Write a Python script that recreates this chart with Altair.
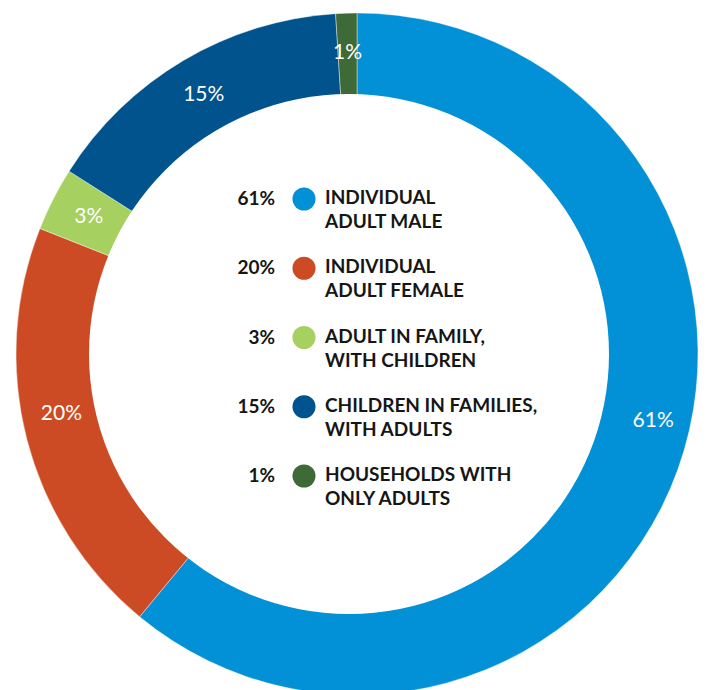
import altair as alt
import pandas as pd

categories = [
    "INDIVIDUAL ADULT MALE",
    "INDIVIDUAL ADULT FEMALE",
    "ADULT IN FAMILY, WITH CHILDREN",
    "CHILDREN IN FAMILIES, WITH ADULTS",
    "HOUSEHOLDS WITH ONLY ADULTS",
]
line1 = ["INDIVIDUAL", "INDIVIDUAL", "ADULT IN FAMILY,", "CHILDREN IN FAMILIES,", "HOUSEHOLDS WITH"]
line2 = ["ADULT MALE", "ADULT FEMALE", "WITH CHILDREN", "WITH ADULTS", "ONLY ADULTS"]
values = [61, 20, 3, 15, 1]
labels = ["61%", "20%", "3%", "15%", "1%"]
colors = ["#0290D6", "#CD4B24", "#A6D05F", "#01538D", "#3E6A37"]

df = pd.DataFrame({
    "cat": categories,
    "line1": line1,
    "line2": line2,
    "value": values,
    "label": labels,
    "order": list(range(len(categories))),
})

FONT = "Lato"
CX, CY = 349, 346

base = alt.Chart(df)
color = alt.Color("cat:N", scale=alt.Scale(domain=categories, range=colors), legend=None)
theta = alt.Theta("value:Q", stack=True)
order = alt.Order("order:Q")

ring = base.mark_arc(outerRadius=341, innerRadius=0, stroke="white", strokeWidth=0.4).encode(
    theta=theta, color=color, order=order, x=alt.value(CX), y=alt.value(CY)
)

# white hole of the donut (slightly off-centre, as in the original)
hole = alt.Chart(pd.DataFrame({"k": [0]})).mark_arc(
    outerRadius=260, innerRadius=0, theta=0, theta2=6.2832, color="white"
).encode(x=alt.value(CX - 8), y=alt.value(CY))

def ring_label(filter_expr, dx=0, dy=0):
    return base.mark_text(radius=301, font=FONT, fontSize=21, color="white", dx=dx, dy=dy).encode(
        theta=theta, order=order, text="label:N", x=alt.value(CX), y=alt.value(CY),
        opacity=alt.condition(filter_expr, alt.value(1), alt.value(0)),
    )

ring_text_main = ring_label("datum.label != '61%' && datum.label != '20%'")
ring_text_61 = ring_label("datum.label == '61%'", dx=13, dy=-35)
ring_text_20 = ring_label("datum.label == '20%'", dx=-4, dy=-15)

row_y = alt.Y("order:Q", scale=alt.Scale(domain=[0, 4], range=[191, 468]), axis=None)

dots = base.mark_circle(size=531, opacity=1).encode(
    x=alt.value(296), y=row_y, color=color
)

pct = base.mark_text(align="right", baseline="middle", font=FONT, fontWeight="bold",
                     fontSize=19, color="#161616").encode(
    x=alt.value(267), y=row_y, text="label:N"
)

t1 = base.mark_text(align="left", baseline="middle", font=FONT, fontWeight="bold",
                    fontSize=19, color="#161616", dy=-1).encode(
    x=alt.value(317), y=row_y, text="line1:N"
)
t2 = base.mark_text(align="left", baseline="middle", font=FONT, fontWeight="bold",
                    fontSize=19, color="#161616", dy=23).encode(
    x=alt.value(317), y=row_y, text="line2:N"
)

chart = alt.layer(ring, hole, ring_text_main, ring_text_61, ring_text_20, dots, pct, t1, t2).properties(
    width=693, height=682, padding=0, autosize="none"
).configure_view(stroke=None)

chart.save("out.html", embed_options={"renderer": "svg", "actions": False})
